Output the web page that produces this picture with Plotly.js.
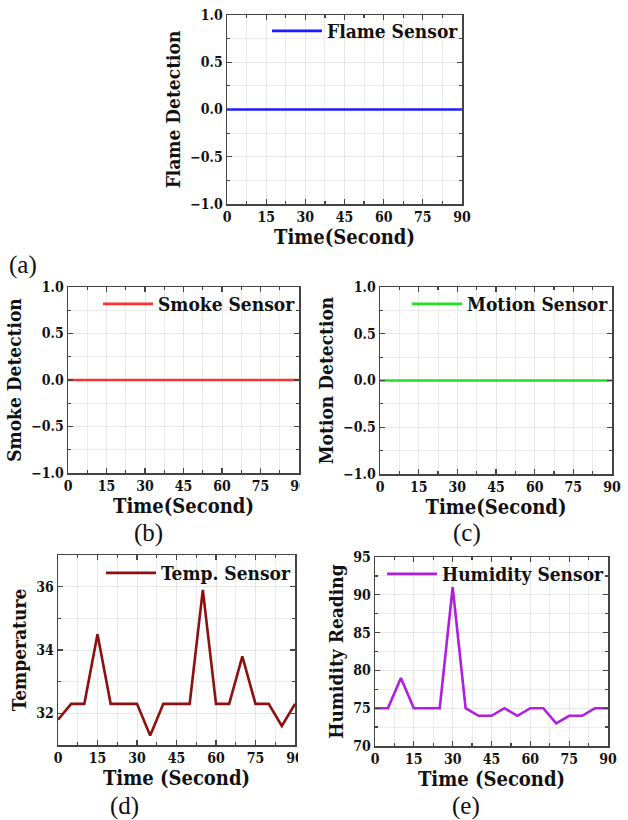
<!DOCTYPE html>
<html>
<head>
<meta charset="utf-8">
<script src="https://cdn.plot.ly/plotly-3.0.1.min.js"></script>
<style>
  html, body { margin: 0; padding: 0; background: #fff; }
  #chart { width: 628px; height: 820px; }
</style>
</head>
<body>
<div id="chart"></div>
<script>
// Sampling instants (seconds)
const time = [0, 5, 10, 15, 20, 25, 30, 35, 40, 45, 50, 55, 60, 65, 70, 75, 80, 85, 90];

// Binary detectors (0 = nothing detected)
const flame  = [0, 0, 0, 0, 0, 0, 0, 0, 0, 0, 0, 0, 0, 0, 0, 0, 0, 0, 0];
const smoke  = [0, 0, 0, 0, 0, 0, 0, 0, 0, 0, 0, 0, 0, 0, 0, 0, 0, 0, 0];
const motion = [0, 0, 0, 0, 0, 0, 0, 0, 0, 0, 0, 0, 0, 0, 0, 0, 0, 0, 0];

// Analog readings
const temperature = [31.8, 32.3, 32.3, 34.5, 32.3, 32.3, 32.3, 31.3, 32.3, 32.3,
                     32.3, 35.9, 32.3, 32.3, 33.8, 32.3, 32.3, 31.6, 32.3];
const humidity = [75, 75, 79, 75, 75, 75, 91, 75, 74, 74,
                  75, 74, 75, 75, 73, 74, 74, 75, 75];

const timeTicks = [0, 15, 30, 45, 60, 75, 90];
const detectTicks = [-1.0, -0.5, 0.0, 0.5, 1.0];
const detectTickText = ['\u22121.0', '\u22120.5', '0.0', '0.5', '1.0'];
const tempTicks = [32, 34, 36];
const humTicks = [70, 75, 80, 85, 90, 95];

const FONT = 'DejaVu Serif Condensed, DejaVu Serif, serif';
const W = 628, H = 820;

function xd(l, r) { return [l / W, r / W]; }
function yd(t, b) { return [1 - b / H, 1 - t / H]; }

function baseAxis(extra) {
  return Object.assign({
    showline: true, linecolor: '#444', linewidth: 1.5, mirror: 'allticks',
    ticks: 'inside', ticklen: 5, tickwidth: 1.2, tickcolor: '#444',
    showgrid: true, gridcolor: '#e6e6e6', gridwidth: 1,
    zeroline: false,
    tickfont: { family: FONT, size: 14, color: '#111', weight: 'bold' },
    fixedrange: true
  }, extra);
}

function timeAxis(domain, anchor, titleText) {
  return baseAxis({
    domain: domain, anchor: anchor, range: [0, 90],
    tickvals: timeTicks,
    minor: { dtick: 7.5, tick0: 0, ticks: 'inside', ticklen: 3, tickcolor: '#444', showgrid: true, gridcolor: '#ececec' },
    title: { text: titleText, font: { family: FONT, size: 20, color: '#111', weight: 'bold' }, standoff: 0 }
  });
}

function yAxis(domain, anchor, range, vals, text, minorStep, titleText) {
  return baseAxis({
    domain: domain, anchor: anchor, range: range,
    tickvals: vals, ticktext: text,
    minor: { dtick: minorStep, ticks: 'inside', ticklen: 3, tickcolor: '#444', showgrid: true, gridcolor: '#ececec' },
    title: { text: titleText, font: { family: FONT, size: 19, color: '#111', weight: 'bold' }, standoff: 4 }
  });
}

function line(x, y, name, color, xa, ya, legend) {
  return {
    type: 'scatter', mode: 'lines', x: x, y: y, name: name,
    line: { color: color, width: 2.6 },
    xaxis: xa, yaxis: ya, legend: legend, hoverinfo: 'skip'
  };
}

function legendBox(xRight, yTop) {
  return {
    x: xRight / W, y: 1 - yTop / H, xanchor: 'right', yanchor: 'top',
    bgcolor: 'rgba(255,255,255,0)', borderwidth: 0,
    font: { family: FONT, size: 19, color: '#111', weight: 'bold' },
    itemwidth: 50, tracegroupgap: 0
  };
}

const data = [
  line(time, flame, 'Flame Sensor', '#1a1aff', 'x', 'y', 'legend'),
  line(time, smoke, 'Smoke Sensor', '#ff3030', 'x2', 'y2', 'legend2'),
  line(time, motion, 'Motion Sensor', '#22e022', 'x3', 'y3', 'legend3'),
  line(time, temperature, 'Temp. Sensor', '#8e0f0f', 'x4', 'y4', 'legend4'),
  line(time, humidity, 'Humidity Sensor', '#b01fe0', 'x5', 'y5', 'legend5')
];

const capFont = { family: 'Liberation Serif, serif', size: 25, color: '#111' };
function caption(txt, xc, yc) {
  return { text: txt, x: xc / W, y: 1 - yc / H, xref: 'paper', yref: 'paper',
           xanchor: 'center', yanchor: 'middle', showarrow: false, font: capFont };
}

const layout = {
  width: W, height: H,
  margin: { l: 0, r: 0, t: 0, b: 0 },
  paper_bgcolor: '#fff', plot_bgcolor: '#fff',
  showlegend: true,

  xaxis:  timeAxis(xd(227, 462), 'y',  'Time(Second)'),
  yaxis:  yAxis(yd(15, 204),  'x',  [-1, 1], detectTicks, detectTickText, 0.25, 'Flame Detection'),
  xaxis2: timeAxis(xd(68, 299),  'y2', 'Time(Second)'),
  yaxis2: yAxis(yd(287, 473), 'x2', [-1, 1], detectTicks, detectTickText, 0.25, 'Smoke Detection'),
  xaxis3: timeAxis(xd(380, 612), 'y3', 'Time(Second)'),
  yaxis3: yAxis(yd(287, 474), 'x3', [-1, 1], detectTicks, detectTickText, 0.25, 'Motion Detection'),
  xaxis4: timeAxis(xd(58, 295),  'y4', 'Time (Second)'),
  yaxis4: yAxis(yd(555, 745), 'x4', [31, 37], tempTicks, null, 1, 'Temperature'),
  xaxis5: timeAxis(xd(375, 608), 'y5', 'Time (Second)'),
  yaxis5: yAxis(yd(557, 746), 'x5', [70, 95], humTicks, null, 2.5, 'Humidity Reading'),

  legend:  legendBox(464, 12),
  legend2: legendBox(301, 285),
  legend3: legendBox(614, 285),
  legend4: legendBox(297, 554),
  legend5: legendBox(610, 555),

  // the panel images are trimmed on their right edge, which clips the last tick label
  shapes: [
    { type: 'rect', xref: 'paper', yref: 'paper', layer: 'above',
      x0: 300 / W, x1: 312 / W, y0: 1 - 492 / H, y1: 1 - 476 / H,
      fillcolor: '#fff', line: { width: 0 } },
    { type: 'rect', xref: 'paper', yref: 'paper', layer: 'above',
      x0: 298 / W, x1: 310 / W, y0: 1 - 764 / H, y1: 1 - 748 / H,
      fillcolor: '#fff', line: { width: 0 } }
  ],

  annotations: [
    caption('(a)', 23, 265),
    caption('(b)', 148, 533),
    caption('(c)', 467, 533),
    caption('(d)', 124, 806),
    caption('(e)', 466, 806)
  ]
};

Plotly.newPlot('chart', data, layout, { staticPlot: true, displayModeBar: false });
</script>
</body>
</html>
